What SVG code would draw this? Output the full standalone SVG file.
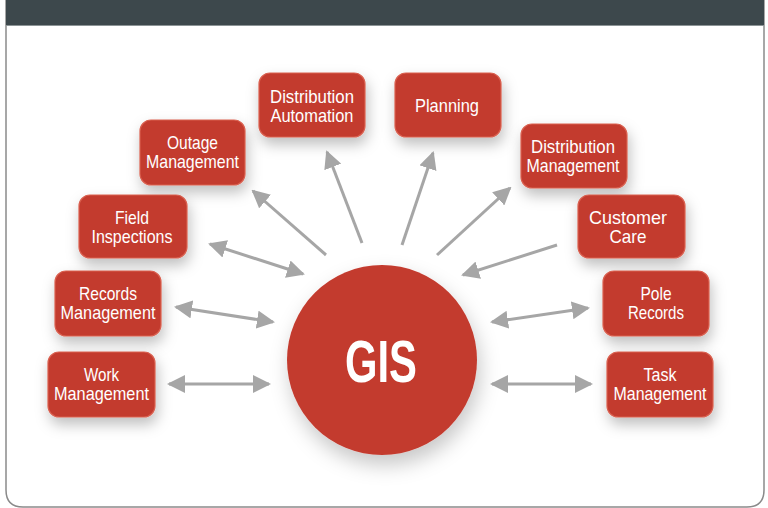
<svg xmlns="http://www.w3.org/2000/svg" width="768" height="508" viewBox="0 0 768 508">
<defs>
<style>
.box{fill:#c33b2f;stroke:#d9604f;stroke-width:1.2}
.lbl{fill:#ffffff;font-family:"Liberation Sans","DejaVu Sans",sans-serif;font-size:19px;text-anchor:middle}
.con{stroke:#a6a6a6;stroke-width:3;fill:none}
</style>
<filter id="sh" x="-30%" y="-30%" width="160%" height="170%">
<feDropShadow dx="2" dy="7" stdDeviation="7" flood-color="#000" flood-opacity="0.25"/>
</filter>
<filter id="csh" x="-30%" y="-30%" width="160%" height="170%">
<feDropShadow dx="3" dy="10" stdDeviation="10" flood-color="#000" flood-opacity="0.22"/>
</filter>
<marker id="ah" markerUnits="userSpaceOnUse" markerWidth="18" markerHeight="18" refX="16" refY="9" orient="auto-start-reverse" viewBox="0 0 18 18">
<path d="M0,0 L18,9 L0,18 z" fill="#a6a6a6"/>
</marker>
</defs>
<rect x="0" y="0" width="768" height="508" fill="#ffffff"/>
<path d="M6,0 L6,490 Q6,507 23,507 L747,507 Q764,507 764,490 L764,0" fill="#ffffff" stroke="#8a8a8a" stroke-width="1.5"/>
<rect x="6" y="0" width="758" height="25" fill="#3d484c"/>
<line x1="6" y1="25.5" x2="764" y2="25.5" stroke="#8c9496" stroke-width="1"/>

<g id="connectors">
<line class="con" x1="362" y1="243" x2="327" y2="152" marker-end="url(#ah)"/>
<line class="con" x1="326" y1="255" x2="253" y2="191" marker-end="url(#ah)"/>
<line class="con" x1="210" y1="244" x2="303" y2="274" marker-start="url(#ah)" marker-end="url(#ah)"/>
<line class="con" x1="176" y1="307" x2="273" y2="322" marker-start="url(#ah)" marker-end="url(#ah)"/>
<line class="con" x1="169" y1="384" x2="269" y2="384" marker-start="url(#ah)" marker-end="url(#ah)"/>
<line class="con" x1="402" y1="245" x2="433" y2="153" marker-end="url(#ah)"/>
<line class="con" x1="437" y1="255" x2="510" y2="188" marker-end="url(#ah)"/>
<line class="con" x1="557" y1="245" x2="463" y2="275" marker-end="url(#ah)"/>
<line class="con" x1="492" y1="322" x2="588" y2="308" marker-start="url(#ah)" marker-end="url(#ah)"/>
<line class="con" x1="492" y1="384" x2="591" y2="384" marker-start="url(#ah)" marker-end="url(#ah)"/>
</g>

<g id="gis">
<circle cx="382" cy="360" r="95" fill="#c33b2f" filter="url(#csh)"/>
<text x="381" y="382" fill="#ffffff" font-family="Liberation Sans, DejaVu Sans, sans-serif" font-size="60" font-weight="bold" text-anchor="middle" textLength="72" lengthAdjust="spacingAndGlyphs">GIS</text>
</g>

<g id="distribution-automation">
<rect class="box" x="259" y="73" width="106" height="64" rx="11" filter="url(#sh)"/>
<text class="lbl" x="312" y="102.5" textLength="84" lengthAdjust="spacingAndGlyphs">Distribution</text>
<text class="lbl" x="312" y="122" textLength="83" lengthAdjust="spacingAndGlyphs">Automation</text>
</g>
<g id="outage-management">
<rect class="box" x="140" y="120" width="105" height="65" rx="11" filter="url(#sh)"/>
<text class="lbl" x="192.5" y="148.5" textLength="51" lengthAdjust="spacingAndGlyphs">Outage</text>
<text class="lbl" x="192.5" y="168" textLength="93" lengthAdjust="spacingAndGlyphs">Management</text>
</g>
<g id="field-inspections">
<rect class="box" x="79" y="195" width="108" height="63" rx="11" filter="url(#sh)"/>
<text class="lbl" x="132" y="223.5" textLength="34" lengthAdjust="spacingAndGlyphs">Field</text>
<text class="lbl" x="132" y="243" textLength="81" lengthAdjust="spacingAndGlyphs">Inspections</text>
</g>
<g id="records-management">
<rect class="box" x="55" y="271" width="106" height="65" rx="11" filter="url(#sh)"/>
<text class="lbl" x="108" y="299.5" textLength="58" lengthAdjust="spacingAndGlyphs">Records</text>
<text class="lbl" x="108" y="319" textLength="95" lengthAdjust="spacingAndGlyphs">Management</text>
</g>
<g id="work-management">
<rect class="box" x="48" y="352" width="107" height="65" rx="11" filter="url(#sh)"/>
<text class="lbl" x="101.5" y="380.5" textLength="35" lengthAdjust="spacingAndGlyphs">Work</text>
<text class="lbl" x="101.5" y="400" textLength="95" lengthAdjust="spacingAndGlyphs">Management</text>
</g>
<g id="planning">
<rect class="box" x="395" y="73" width="106" height="64" rx="11" filter="url(#sh)"/>
<text class="lbl" x="447" y="112" textLength="64" lengthAdjust="spacingAndGlyphs">Planning</text>
</g>
<g id="distribution-management">
<rect class="box" x="521" y="124" width="106" height="64" rx="11" filter="url(#sh)"/>
<text class="lbl" x="573" y="152.5" textLength="84" lengthAdjust="spacingAndGlyphs">Distribution</text>
<text class="lbl" x="573" y="172" textLength="93" lengthAdjust="spacingAndGlyphs">Management</text>
</g>
<g id="customer-care">
<rect class="box" x="578" y="195" width="107" height="63" rx="11" filter="url(#sh)"/>
<text class="lbl" x="628" y="223.5" textLength="78" lengthAdjust="spacingAndGlyphs">Customer</text>
<text class="lbl" x="628" y="243" textLength="37" lengthAdjust="spacingAndGlyphs">Care</text>
</g>
<g id="pole-records">
<rect class="box" x="603" y="271" width="106" height="65" rx="11" filter="url(#sh)"/>
<text class="lbl" x="656" y="299.5" textLength="31" lengthAdjust="spacingAndGlyphs">Pole</text>
<text class="lbl" x="656" y="319" textLength="56" lengthAdjust="spacingAndGlyphs">Records</text>
</g>
<g id="task-management">
<rect class="box" x="607" y="352" width="106" height="65" rx="11" filter="url(#sh)"/>
<text class="lbl" x="660" y="380.5" textLength="33" lengthAdjust="spacingAndGlyphs">Task</text>
<text class="lbl" x="660" y="400" textLength="93" lengthAdjust="spacingAndGlyphs">Management</text>
</g>
</svg>
